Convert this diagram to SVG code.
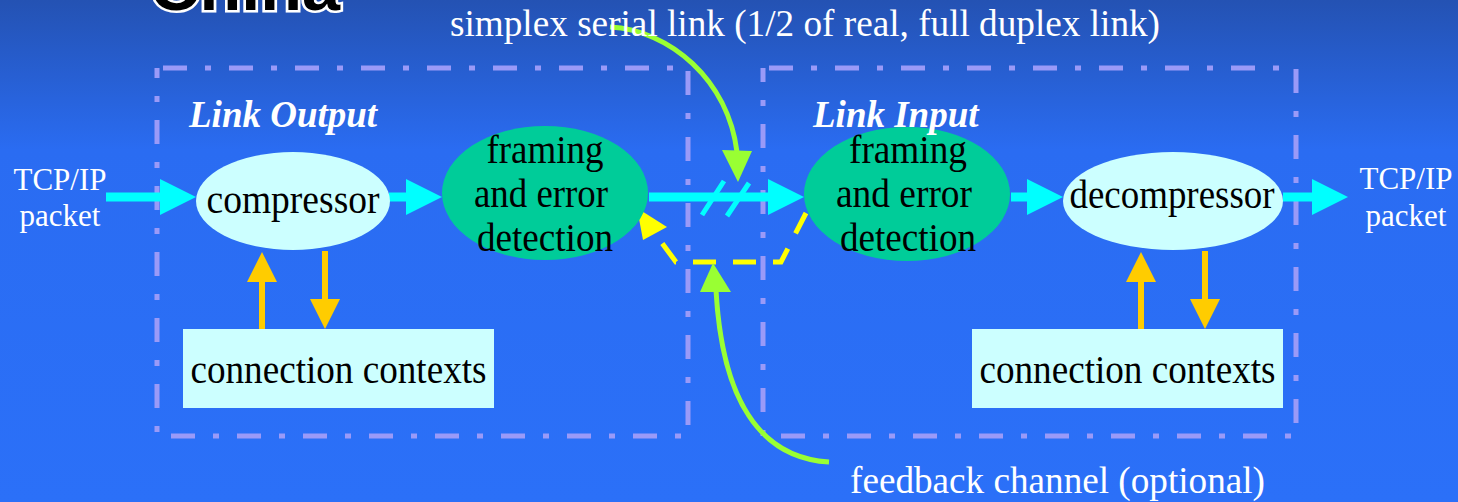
<svg xmlns="http://www.w3.org/2000/svg" width="1458" height="502" viewBox="0 0 1458 502">
  <defs>
    <linearGradient id="bg" x1="0" y1="0" x2="0" y2="1">
      <stop offset="0" stop-color="#2452b3"/>
      <stop offset="0.3" stop-color="#2a6cf2"/>
      <stop offset="1" stop-color="#2b70f8"/>
    </linearGradient>
    <marker id="cyanHead" markerUnits="userSpaceOnUse" markerWidth="36" markerHeight="36" refX="0" refY="18" orient="auto" overflow="visible">
      <path d="M0,0 L36,18 L0,36 z" fill="#00ffff"/>
    </marker>
    <marker id="goldHead" markerUnits="userSpaceOnUse" markerWidth="30" markerHeight="30" refX="0" refY="15" orient="auto" overflow="visible">
      <path d="M0,0 L30,15 L0,30 z" fill="#ffcc00"/>
    </marker>
    <style>
      .frame { fill: none; stroke: #9a9af8; stroke-width: 5; stroke-dasharray: 24 18 6 18; stroke-dashoffset: 60; }
      .pale { fill: #ccffff; }
      .green { fill: #00cc99; }
      .lbl { font-family: "Liberation Serif", "Times New Roman", serif; font-size: 41px; fill: #000000; text-anchor: middle; }
      .note { font-family: "Liberation Serif", "Times New Roman", serif; font-size: 37px; fill: #ffffff; }
      .io { font-family: "Liberation Serif", "Times New Roman", serif; font-size: 31px; fill: #ffffff; text-anchor: middle; }
      .title { font-family: "Liberation Serif", "Times New Roman", serif; font-size: 37px; font-weight: bold; font-style: italic; fill: #ffffff; }
      .flow { fill: none; stroke: #00ffff; stroke-width: 9; marker-end: url(#cyanHead); }
      .ctx { fill: none; stroke: #ffcc00; stroke-width: 6; marker-end: url(#goldHead); }
      .bend { fill: none; stroke: #99ff33; stroke-width: 5; }
      .bendHead { fill: #99ff33; }
      .fb { fill: none; stroke: #ffff00; stroke-width: 5; stroke-dasharray: 23 17; }
    </style>
  </defs>

  <!-- backdrop -->
  <rect x="0" y="0" width="1458" height="502" fill="url(#bg)"/>

  <!-- slide heading, cut by the top edge -->
  <text x="150" y="10" font-family="Liberation Sans, Arial, sans-serif" font-size="64" font-weight="bold" fill="#000000" stroke="#ffffff" stroke-width="5" paint-order="stroke" textLength="190" lengthAdjust="spacingAndGlyphs">China</text>

  <!-- dash-dot frames -->
  <g id="frames">
    <rect class="frame" x="157" y="68" width="531" height="368"/>
    <rect class="frame" x="763" y="68" width="533" height="368"/>
  </g>

  <!-- connectors -->
  <g id="connectors">
    <path class="flow" d="M106,197 H160"/>
    <path class="flow" d="M389,197 H406"/>
    <path class="flow" d="M649,197 H768"/>
    <path class="flow" d="M1011,197 H1027"/>
    <path class="flow" d="M1283,197 H1312"/>
    <!-- line break marks on the serial link -->
    <path d="M702,215 L724,181 M727,216 L749,183" stroke="#00ffff" stroke-width="5" fill="none"/>

    <path class="ctx" d="M262,329 V282"/>
    <path class="ctx" d="M325,251 V299"/>
    <path class="ctx" d="M1141,329 V282"/>
    <path class="ctx" d="M1205,251 V299"/>

    <!-- feedback path -->
    <path class="fb" d="M806,213 L781,262 L676,262 L656,235"/>
    <polygon points="637,208 643,240 667,227" fill="#ffff00"/>

    <!-- callout leaders -->
    <path class="bend" d="M610,27 C670,30 728,80 737,152"/>
    <polygon class="bendHead" points="722,150 752,151 738,182"/>
    <path class="bend" d="M829,462 C760,458 722,400 716,290"/>
    <polygon class="bendHead" points="700,292 731,292 713,263"/>
  </g>

  <!-- link output side -->
  <g id="compressor">
    <ellipse class="pale" cx="293" cy="201" rx="97" ry="49"/>
    <text class="lbl" x="293" y="213" textLength="173" lengthAdjust="spacingAndGlyphs">compressor</text>
  </g>
  <g id="framing-out">
    <ellipse class="green" cx="545" cy="193" rx="103" ry="67"/>
    <text class="lbl" x="545" y="163" textLength="117" lengthAdjust="spacingAndGlyphs">framing</text>
    <text class="lbl" x="541" y="207" textLength="134" lengthAdjust="spacingAndGlyphs">and error</text>
    <text class="lbl" x="545" y="251" textLength="136" lengthAdjust="spacingAndGlyphs">detection</text>
  </g>
  <g id="contexts-out">
    <rect class="pale" x="183" y="329" width="311" height="79"/>
    <text class="lbl" x="338.5" y="383" textLength="296" lengthAdjust="spacingAndGlyphs">connection contexts</text>
  </g>

  <!-- link input side -->
  <g id="framing-in">
    <ellipse class="green" cx="907" cy="194" rx="103" ry="67"/>
    <text class="lbl" x="908" y="163" textLength="118" lengthAdjust="spacingAndGlyphs">framing</text>
    <text class="lbl" x="904" y="207" textLength="136" lengthAdjust="spacingAndGlyphs">and error</text>
    <text class="lbl" x="908" y="251" textLength="136" lengthAdjust="spacingAndGlyphs">detection</text>
  </g>
  <g id="decompressor">
    <ellipse class="pale" cx="1173" cy="201" rx="110" ry="49"/>
    <text class="lbl" x="1172" y="208" textLength="205" lengthAdjust="spacingAndGlyphs">decompressor</text>
  </g>
  <g id="contexts-in">
    <rect class="pale" x="972" y="329" width="311" height="79"/>
    <text class="lbl" x="1127.5" y="383" textLength="296" lengthAdjust="spacingAndGlyphs">connection contexts</text>
  </g>

  <!-- labels -->
  <g id="labels">
    <text class="title" x="189" y="127">Link Output</text>
    <text class="title" x="813" y="127">Link Input</text>
    <text class="io" x="60" y="190">TCP/IP</text>
    <text class="io" x="60" y="226">packet</text>
    <text class="io" x="1406" y="189">TCP/IP</text>
    <text class="io" x="1406" y="226">packet</text>
    <text class="note" x="450" y="36" textLength="710" lengthAdjust="spacingAndGlyphs">simplex serial link (1/2 of real, full duplex link)</text>
    <text class="note" x="850" y="493" textLength="415" lengthAdjust="spacingAndGlyphs">feedback channel (optional)</text>
  </g>
</svg>
